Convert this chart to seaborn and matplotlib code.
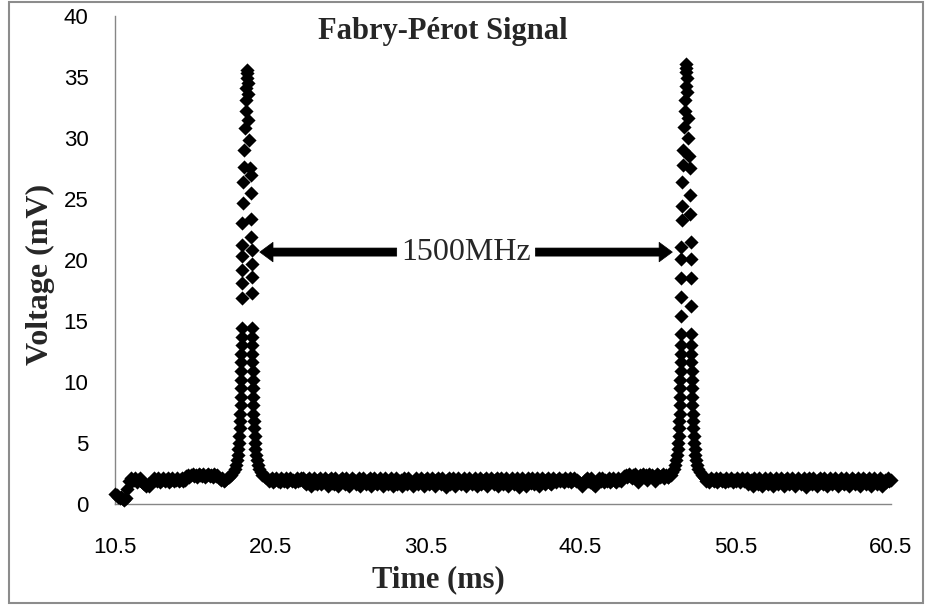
import numpy as np
import pandas as pd
import matplotlib
matplotlib.use("Agg")
import matplotlib.pyplot as plt
import seaborn as sns
from matplotlib.patches import Rectangle

# ---- data -----------------------------------------------------------------
# Flat parts of the trace, sampled every 0.1 ms
BASE_STEP_MS = 0.1

base_a_start_ms = 10.5
base_a_mv = [0.8, 0.7, 0.6, 0.5, 0.6, 0.4, 0.3, 0.5, 1.2, 1.9,
             2.1, 1.9, 2.0, 2.1, 1.8, 2.0, 2.1, 1.9, 1.7, 1.6,
             1.5, 1.6, 1.5, 1.7, 1.9, 2.1, 2.0, 1.9, 2.1, 1.8,
             2.0, 2.1, 1.9, 2.0, 2.1, 1.8, 2.0, 2.1, 1.9, 2.0,
             2.1, 1.9, 2.0, 2.1, 1.9, 2.0, 2.3, 2.4, 2.2, 2.4,
             2.5, 2.3, 2.4, 2.2, 2.5, 2.4, 2.3, 2.5, 2.2, 2.4,
             2.5, 2.3, 2.4, 2.2, 2.5, 2.3, 2.4, 2.1, 2.0, 2.1,
             1.9, 2.0, 2.1]

base_b_start_ms = 20.3
base_b_mv = [2.1, 1.9, 2.0, 2.1, 1.8, 2.0, 2.1, 1.9, 1.8, 2.1,
             2.0, 1.9, 2.1, 1.8, 2.0, 2.1, 1.9, 2.0, 1.8, 2.1,
             1.9, 2.0, 2.1,
             2.1, 1.8, 1.6, 2.0, 2.1, 1.5, 1.9, 2.1, 1.7, 1.6,
             2.0, 2.1, 1.6, 1.8, 2.1, 1.9, 1.5, 2.0, 2.1, 1.7,
             1.6, 2.1, 1.9, 1.5, 2.0, 2.1, 1.8, 1.6, 2.1, 1.9,
             1.5, 1.7, 2.1, 2.0, 1.6, 1.8, 2.1, 1.5, 1.9, 2.1,
             1.8, 1.6, 2.0, 2.1, 1.5, 1.9, 2.1, 1.7, 1.6, 2.0,
             2.1, 1.8, 1.5, 2.1, 1.9, 1.6, 2.0, 2.1, 1.5, 1.8,
             2.1, 1.6, 1.9, 2.0, 1.5, 2.1, 1.8, 1.6, 2.1, 1.9,
             1.7, 1.5, 2.0, 2.1, 1.6, 1.8, 2.1, 1.9, 1.5, 2.0,
             2.1, 1.6, 1.7, 2.1, 1.9, 1.5, 2.0, 2.1, 1.8, 1.6,
             2.1, 1.9, 1.4, 2.0, 2.1, 1.6, 1.8, 2.1, 1.5, 1.9,
             2.1, 1.7, 1.6, 2.0, 2.1, 1.5, 1.8, 2.1, 1.9, 1.6,
             2.0, 2.1, 1.5, 1.9, 2.1, 1.6, 1.8, 2.0, 2.1, 1.5,
             1.7, 2.1, 1.9, 1.6, 2.0, 2.1, 1.5, 1.8, 2.1, 1.6,
             1.9, 2.1, 1.5, 1.7, 2.0, 2.1, 1.6, 1.9, 2.1, 1.4,
             1.8, 2.1, 2.0, 1.6, 1.5, 2.1, 1.9, 1.7, 2.1, 1.6,
             2.0, 2.1, 1.5, 1.8, 2.1, 1.9, 1.6, 2.0, 2.1, 1.7,
             1.6, 2.1, 1.9, 1.8, 2.0,
             2.1, 1.9, 2.0, 1.8, 2.1, 2.0, 1.9, 2.1, 1.8, 2.0,
             2.1, 1.9, 2.0,
             1.8, 1.6, 1.5, 1.7, 2.0, 2.1, 1.9, 1.8, 2.1, 1.6,
             1.5, 1.7, 2.0, 2.1, 1.9,
             2.1, 1.8, 2.0, 1.9, 2.1, 1.8, 2.0, 2.1, 1.9, 1.8,
             2.1, 2.0, 1.9, 2.1,
             2.3, 2.4, 2.2, 2.5, 2.3, 2.1, 2.4, 2.5, 2.2, 1.8,
             2.4, 2.3, 2.5, 2.2, 2.4, 2.0, 2.5, 2.3, 2.4, 2.2,
             1.9, 2.5, 2.4, 2.2, 2.3, 2.5, 2.1, 2.4, 2.2]

base_c_start_ms = 48.5
base_c_mv = [2.1, 1.9, 2.0, 1.8, 2.1, 2.0, 1.9, 2.1, 1.8, 2.0,
             2.1, 1.9, 2.0, 1.8, 2.1, 1.9, 2.0, 2.1, 1.8, 2.0,
             1.9, 2.1, 2.0, 1.8, 2.1, 1.9, 2.0,
             2.1, 1.6, 1.9, 2.0, 1.5, 2.1, 1.8, 1.6, 2.1, 1.9,
             1.5, 2.0, 2.1, 1.7, 1.6, 2.1, 1.9, 1.5, 2.0, 2.1,
             1.6, 1.8, 2.1, 1.9, 1.5, 2.0, 2.1, 1.6, 1.7, 2.1,
             1.9, 1.5, 1.8, 2.1, 2.0, 1.6, 1.9, 2.1, 1.4, 2.0,
             2.1, 1.7, 1.6, 2.1, 1.9, 1.5, 2.0, 2.1, 1.8, 1.6,
             2.1, 1.9, 1.5, 2.0, 2.1, 1.6, 1.8, 2.1, 1.9, 1.5,
             2.0, 2.1, 1.7, 1.6, 2.1, 1.9, 1.5, 1.8, 2.1, 2.0,
             1.6, 1.9, 2.1, 1.5, 1.7, 2.1, 2.0, 1.6, 1.9, 2.1,
             1.5, 1.8, 2.1, 1.9, 1.6, 2.0, 2.1, 1.5, 1.9, 2.0,
             1.8, 2.1, 1.9, 2.0]

# First transmission peak
peak1_ms = [17.85, 18.00, 18.12, 18.22, 18.30, 18.36, 18.41, 18.45, 18.48, 18.51,
            18.54, 18.56, 18.58, 18.60, 18.61, 18.62, 18.63, 18.64, 18.65, 18.65,
            18.66, 18.66, 18.67, 18.68, 18.69, 18.69, 18.70, 18.70, 18.71, 18.72,
            18.74, 18.78, 18.84, 18.88, 18.92, 18.95, 18.97, 18.99, 19.00,
            19.02, 19.04, 19.06, 19.09, 19.14, 19.20, 19.24, 19.26, 19.28, 19.29,
            19.30, 19.30, 19.31, 19.31, 19.33, 19.33, 19.34, 19.34, 19.35, 19.36,
            19.37, 19.38, 19.39, 19.40, 19.42, 19.44, 19.46, 19.49, 19.52, 19.55,
            19.59, 19.64, 19.70, 19.78, 19.88, 20.00, 20.15]
peak1_mv = [2.2, 2.4, 2.6, 2.9, 3.2, 3.6, 4.0, 4.5, 5.0, 5.6,
            6.2, 6.8, 7.4, 8.1, 8.8, 9.5, 10.2, 10.9, 11.6, 12.3,
            13.0, 13.7, 14.4, 16.9, 18.1, 19.2, 20.3, 21.2, 23.0, 24.7,
            26.4, 27.6, 29.0, 30.8, 32.2, 33.1, 34.1, 34.9, 35.6,
            35.3, 34.5, 33.6, 31.5, 29.8, 27.5, 27.0, 25.5, 23.4, 21.9,
            20.8, 19.7, 18.6, 17.3, 14.4, 13.7, 13.0, 12.3, 11.6, 10.9,
            10.2, 9.5, 8.8, 8.1, 7.4, 6.8, 6.2, 5.6, 5.0, 4.5,
            4.0, 3.6, 3.2, 2.9, 2.6, 2.4, 2.2]

# Second transmission peak
peak2_ms = [46.15, 46.30, 46.42, 46.52, 46.60, 46.66, 46.71, 46.75, 46.78, 46.81,
            46.84, 46.86, 46.88, 46.90, 46.91, 46.92, 46.93, 46.94, 46.95, 46.95,
            46.96, 46.97, 46.98, 46.99, 46.99, 47.00, 47.00, 47.01, 47.02, 47.04,
            47.07, 47.12, 47.17, 47.21, 47.24, 47.26, 47.28, 47.30,
            47.32, 47.34, 47.36, 47.39, 47.44, 47.49, 47.53, 47.56, 47.58, 47.59,
            47.60, 47.61, 47.61, 47.62, 47.63, 47.64, 47.64, 47.65, 47.66, 47.67,
            47.68, 47.70, 47.72, 47.74, 47.76, 47.79, 47.82, 47.85, 47.89, 47.94,
            48.00, 48.08, 48.18, 48.30, 48.45]
peak2_mv = [2.2, 2.4, 2.6, 2.9, 3.2, 3.6, 4.0, 4.5, 5.0, 5.6,
            6.2, 6.8, 7.4, 8.1, 8.8, 9.5, 10.2, 10.9, 11.6, 12.3,
            13.0, 13.9, 15.4, 17.0, 18.5, 20.1, 21.1, 23.3, 24.4, 26.4,
            27.8, 29.0, 30.9, 32.2, 33.1, 34.3, 35.4, 36.1,
            35.7, 34.9, 33.8, 31.6, 30.0, 28.5, 27.5, 25.3, 23.8, 21.5,
            20.1, 18.5, 16.2, 13.9, 13.0, 12.3, 11.6, 10.9, 10.2, 9.5,
            8.8, 8.1, 7.4, 6.8, 6.2, 5.6, 5.0, 4.5, 4.0, 3.6,
            3.2, 2.9, 2.6, 2.4, 2.2]

x_ticks = [10.5, 20.5, 30.5, 40.5, 50.5, 60.5]
x_tick_labels = ["10.5", "20.5", "30.5", "40.5", "50.5", "60.5"]
y_ticks = [0, 5, 10, 15, 20, 25, 30, 35, 40]

spacing_label = "1500MHz"
spacing_left_ms = (19.83, 28.65)    # arrow tip, arrow tail
spacing_right_ms = (37.59, 46.41)   # arrow tail, arrow tip
spacing_text_ms = 33.15
spacing_level_mv = 20.65


def sampled(start, values):
    return start + BASE_STEP_MS * np.arange(len(values))


df = pd.DataFrame({
    "time_ms": np.concatenate([
        sampled(base_a_start_ms, base_a_mv), peak1_ms,
        sampled(base_b_start_ms, base_b_mv), peak2_ms,
        sampled(base_c_start_ms, base_c_mv)]),
    "voltage_mV": np.concatenate([base_a_mv, peak1_mv, base_b_mv,
                                  peak2_mv, base_c_mv]),
})

# ---- figure -----------------------------------------------------------------
sns.set_style("white")
W, H = 926, 605
fig = plt.figure(figsize=(W / 100, H / 100), dpi=100)
fig.patch.set_facecolor("white")
ax = fig.add_axes([115 / W, 1 - 504 / H, 776 / W, 488 / H])

sns.scatterplot(data=df, x="time_ms", y="voltage_mV", marker="D", color="black",
                s=52, linewidth=0, legend=False, ax=ax, zorder=3)
for coll in ax.collections:
    coll.set_clip_on(False)

ax.set_xlim(10.5, 60.5)
ax.set_ylim(0, 40)
ax.set_xlabel("")
ax.set_ylabel("")

grey = "#868686"
for side in ("top", "right"):
    ax.spines[side].set_visible(False)
for side in ("left", "bottom"):
    ax.spines[side].set_color(grey)
    ax.spines[side].set_linewidth(1.0)

tick_font = ["Liberation Sans Narrow", "Liberation Sans", "DejaVu Sans"]
ax.set_xticks(x_ticks)
ax.set_xticklabels(x_tick_labels)
ax.set_yticks(y_ticks)
ax.tick_params(axis="both", direction="out", length=6, width=1.0, color=grey,
               labelsize=16, labelcolor="black")
ax.tick_params(axis="x", pad=18)
ax.tick_params(axis="y", pad=13)
for lab in ax.get_xticklabels() + ax.get_yticklabels():
    lab.set_family(tick_font)

serif = ["Liberation Serif", "DejaVu Serif"]
fig.text(443 / W, 1 - 32 / H, "Fabry-Pérot Signal", ha="center", va="center",
         family=serif, weight="bold", fontsize=22)
fig.text(438 / W, 1 - 580 / H, "Time (ms)", ha="center", va="center",
         family=serif, weight="bold", fontsize=22)
fig.text(40 / W, 1 - 274 / H, "Voltage (mV)", ha="center", va="center",
         rotation=90, family=serif, weight="bold", fontsize=23)

# free spectral range marker: label between two arrows
arrow_style = "simple,head_length=0.95,head_width=1.4,tail_width=0.58"
ax.annotate("", xy=(spacing_left_ms[0], spacing_level_mv),
            xytext=(spacing_left_ms[1], spacing_level_mv),
            arrowprops=dict(arrowstyle=arrow_style, mutation_scale=10,
                            fc="black", ec="black", lw=0.5,
                            shrinkA=0, shrinkB=0), zorder=4)
ax.annotate("", xy=(spacing_right_ms[1], spacing_level_mv),
            xytext=(spacing_right_ms[0], spacing_level_mv),
            arrowprops=dict(arrowstyle=arrow_style, mutation_scale=10,
                            fc="black", ec="black", lw=0.5,
                            shrinkA=0, shrinkB=0), zorder=4)
ax.text(spacing_text_ms, spacing_level_mv, spacing_label, ha="center",
        va="center", family=serif, fontsize=23, zorder=5)

# chart frame
fig.patches.append(Rectangle((9 / W, 2 / H), (923 - 9) / W, (603 - 2) / H,
                             transform=fig.transFigure, fill=False,
                             edgecolor="#8c8c8c", linewidth=1.5))

fig.savefig("out.png", dpi=100)
